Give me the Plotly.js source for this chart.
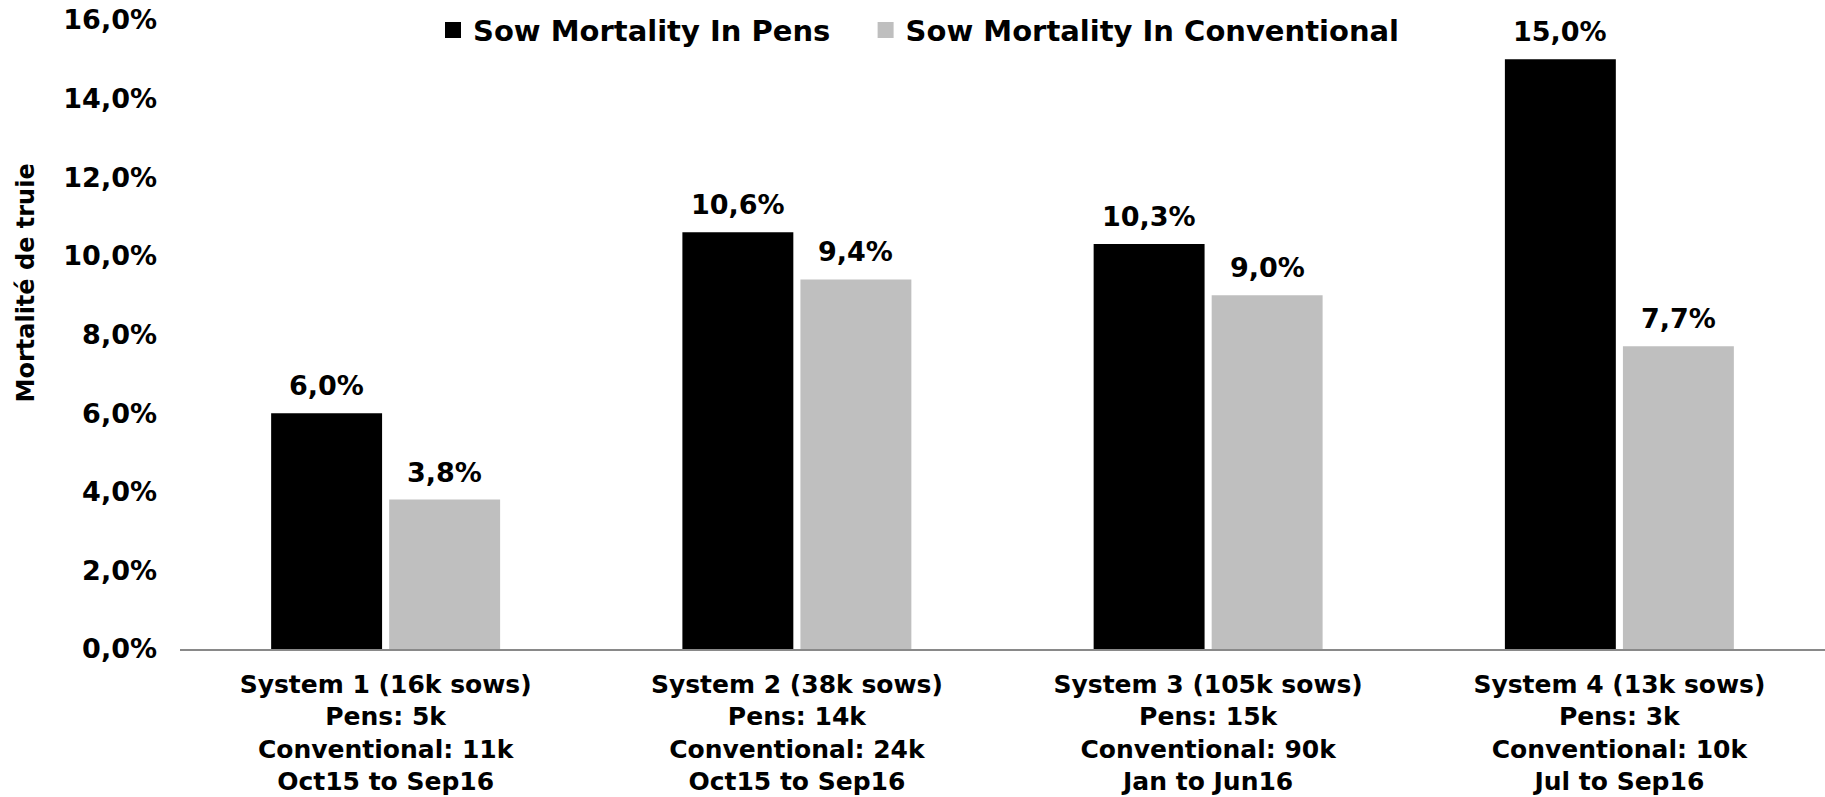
<!DOCTYPE html>
<html>
<head>
<meta charset="utf-8">
<script src="https://cdn.plot.ly/plotly-3.0.1.min.js"></script>
<style>html,body{margin:0;padding:0;background:#fff;}#chart{width:1825px;height:797px;}</style>
</head>
<body>
<div id="chart"></div>
<script>
const categories = [
  "System 1 (16k sows)<br>Pens: 5k<br>Conventional: 11k<br>Oct15 to Sep16",
  "System 2 (38k sows)<br>Pens: 14k<br>Conventional: 24k<br>Oct15 to Sep16",
  "System 3 (105k sows)<br>Pens: 15k<br>Conventional: 90k<br>Jan to Jun16",
  "System 4 (13k sows)<br>Pens: 3k<br>Conventional: 10k<br>Jul to Sep16"
];
const seriesNames = ["Sow Mortality In Pens", "Sow Mortality In Conventional"];
const pensValues = [6.0, 10.6, 10.3, 15.0];
const conventionalValues = [3.8, 9.4, 9.0, 7.7];
const yTickValues = [0, 2, 4, 6, 8, 10, 12, 14, 16];
const yTitle = "Mortalité de truie";

const FONT = "DejaVu Sans, Verdana, sans-serif";
const colors = ["#000000", "#BFBFBF"];
const series = [pensValues, conventionalValues];
const bargap = 0.426, bargroupgap = 0.06;

const fmt = v => v.toFixed(1).replace(".", ",") + "%";

const traces = series.map((vals, t) => ({
  type: "bar", x: categories, y: vals, name: seriesNames[t],
  marker: {color: colors[t], line: {width: 0}}, showlegend: false,
  hoverinfo: "none"
}));
// legend-only traces
seriesNames.forEach((n, t) => traces.push({
  type: "scatter", mode: "markers", x: [null], y: [null],
  name: t === 0 ? n + "&nbsp;&nbsp;&nbsp;" : n,
  marker: {symbol: "square", size: 16, color: colors[t]}, showlegend: true
}));

const slot = (1 - bargap) / series.length;
const annotations = [];
series.forEach((vals, t) => {
  vals.forEach((v, i) => {
    annotations.push({
      x: i + (t - (series.length - 1) / 2) * slot, y: v, xref: "x", yref: "y",
      text: fmt(v), showarrow: false, yanchor: "bottom", yshift: 10,
      font: {family: FONT, size: 27, color: "#000", weight: "bold"}
    });
  });
});
annotations.push({
  xref: "paper", yref: "paper", x: -0.0939, y: 0.582, text: yTitle,
  textangle: -90, showarrow: false, xanchor: "center", yanchor: "middle",
  font: {family: FONT, size: 24, color: "#000", weight: "bold"}
});

const layout = {
  width: 1825, height: 797,
  margin: {l: 180, r: 0, t: 20, b: 147.5, pad: 0},
  paper_bgcolor: "#fff", plot_bgcolor: "#fff",
  separators: ", ",
  barmode: "group", bargap: bargap, bargroupgap: bargroupgap,
  font: {family: FONT, color: "#000", weight: "bold"},
  showlegend: true,
  legend: {
    orientation: "h", x: 0.1538, xanchor: "left", y: 0.984, yanchor: "middle",
    font: {family: FONT, size: 29, color: "#000", weight: "bold"},
    bgcolor: "rgba(0,0,0,0)", itemclick: false
  },
  xaxis: {
    type: "category", showgrid: false, zeroline: false,
    showline: true, linecolor: "#898989", linewidth: 1.5,
    ticks: "", ticklabelstandoff: 12,
    tickfont: {family: FONT, size: 25, color: "#000", weight: "bold"},
    fixedrange: true
  },
  yaxis: {
    range: [0, 16], tickmode: "array", tickvals: yTickValues,
    ticktext: yTickValues.map(fmt),
    showgrid: false, zeroline: false, showline: false, ticks: "",
    ticklabelstandoff: 22,
    tickfont: {family: FONT, size: 27, color: "#000", weight: "bold"},
    fixedrange: true
  },
  annotations: annotations
};

Plotly.newPlot("chart", traces, layout, {displayModeBar: false, staticPlot: true});
</script>
</body>
</html>
